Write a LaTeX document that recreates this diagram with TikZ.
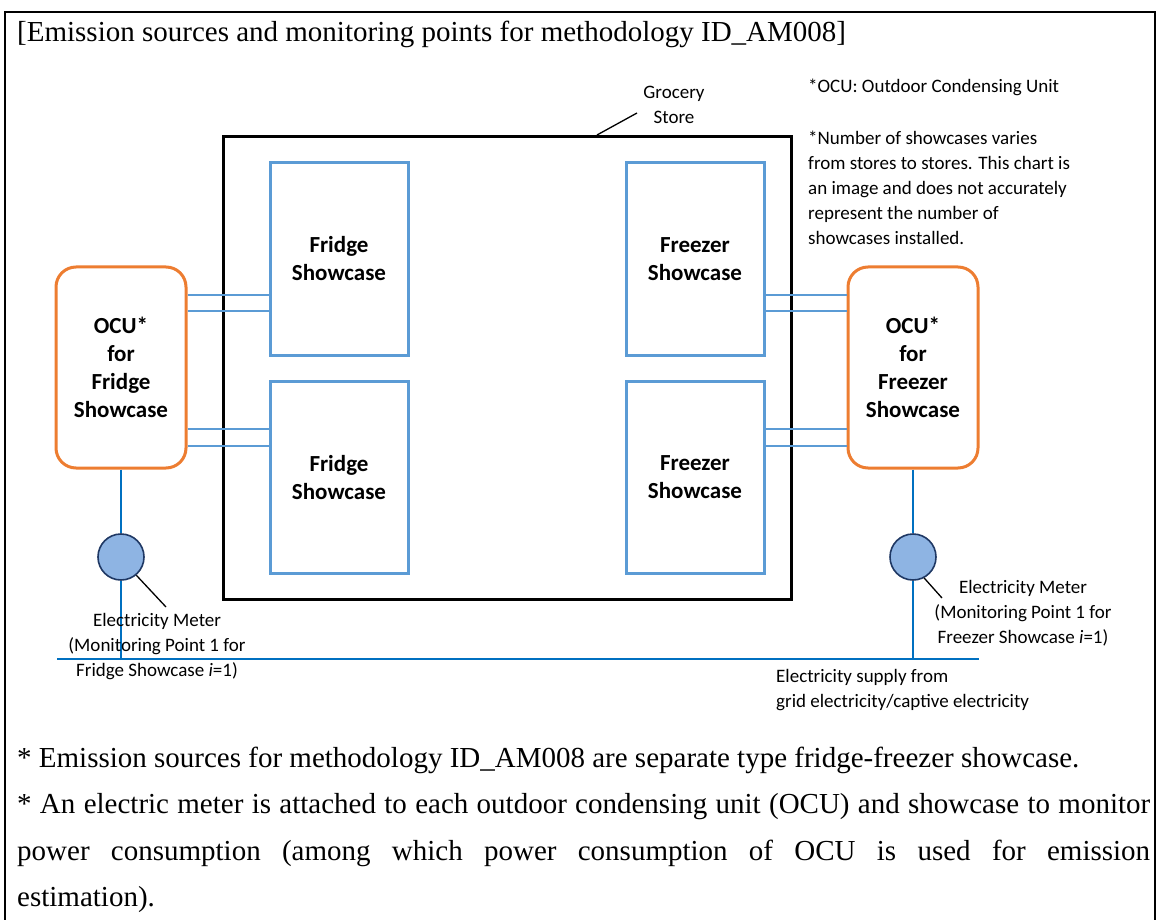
\documentclass[tikz,border=0pt]{standalone}
\usepackage{fontspec}
\setmainfont{Liberation Serif}
\newfontfamily\calib{Carlito}
\definecolor{scblue}{HTML}{5B9BD5}
\definecolor{ocuorange}{HTML}{ED7D31}
\definecolor{wireblue}{HTML}{0070C0}
\definecolor{meterfill}{HTML}{8EB4E3}
\definecolor{meterline}{HTML}{1F3864}
\begin{document}
\begin{tikzpicture}[x=1pt,y=-1pt,
  frame/.style={draw=black,line width=1.5pt},
  storebox/.style={draw=black,line width=3pt,minimum width=568pt,minimum height=462pt,inner sep=0pt},
  showcase/.style={draw=scblue,line width=3pt,minimum width=138pt,minimum height=192pt,inner sep=0pt,align=center,font=\calib\fontsize{23}{28}\selectfont\bfseries},
  ocu/.style={draw=ocuorange,line width=3pt,rounded corners=20pt,minimum width=130pt,minimum height=201pt,inner sep=0pt,align=center,font=\calib\fontsize{23}{28}\selectfont\bfseries},
  pipe/.style={draw=scblue,line width=2.2pt},
  wire/.style={draw=wireblue,line width=1.6pt},
  supply/.style={draw=wireblue,line width=2.8pt},
  meter/.style={circle,draw=meterline,line width=1.6pt,fill=meterfill,minimum size=46pt,inner sep=0pt},
  leader/.style={draw=black,line width=1.3pt},
  lbl/.style={font=\calib\fontsize{19}{25}\selectfont,inner sep=0pt},
  titletext/.style={font=\fontsize{29}{32}\selectfont,inner sep=0pt,anchor=base west},
  body/.style={font=\fontsize{29}{32}\selectfont,inner sep=0pt,anchor=base west}
]
\useasboundingbox (0,0) rectangle (1157,920);
\draw[frame] (5,930) -- (5,12) -- (1155,12) -- (1155,930);

\node[titletext] (title) at (17,42) {[Emission sources and monitoring points for methodology ID\_AM008]};

\node[storebox] (store) at (507,368) {};
\node[lbl,align=center] (storelbl) at (674,105) {Grocery\\Store};
\coordinate (storeTip) at (597,135);
\coordinate (storeLblEnd) at (637,113);
\draw[leader] (storeTip) -- (storeLblEnd);

\node[showcase] (fs1) at (339,259) {Fridge\\Showcase};
\node[showcase] (fs2) at (339,477.5) {Fridge\\Showcase};
\node[showcase] (zs1) at (695,259) {Freezer\\Showcase};
\node[showcase] (zs2) at (695,477.5) {Freezer\\Showcase};

\node[ocu] (ocuL) at (121,367.5) {OCU*\\for\\Fridge\\Showcase};
\node[ocu] (ocuR) at (913,367.5) {OCU*\\for\\Freezer\\Showcase};

\foreach \yy in {295,311}{
  \draw[pipe] (ocuL.east |- 0,\yy) -- (fs1.west |- 0,\yy);
  \draw[pipe] (zs1.east |- 0,\yy) -- (ocuR.west |- 0,\yy);
}
\foreach \yy in {429,446}{
  \draw[pipe] (ocuL.east |- 0,\yy) -- (fs2.west |- 0,\yy);
  \draw[pipe] (zs2.east |- 0,\yy) -- (ocuR.west |- 0,\yy);
}

\node[meter] (mL) at (121,557) {};
\node[meter] (mR) at (913,557) {};
\coordinate (sL) at (57,659);
\coordinate (sR) at (979,659);
\draw[wire] (ocuL.south) -- (mL.north);
\draw[wire] (ocuR.south) -- (mR.north);
\draw[wire] (mL.south) -- (mL.south |- sL);
\draw[wire] (mR.south) -- (mR.south |- sR);
\draw[supply] (sL) -- (sR);

\coordinate (mLend) at (166,607);
\coordinate (mRend) at (942,598);
\draw[leader] (mL.-50) -- (mLend);
\draw[leader] (mR.-62) -- (mRend);

\node[lbl,align=center] (mLlbl) at (157,647) {Electricity Meter\\(Monitoring Point 1 for\\Fridge Showcase \textit{i}=1)};
\node[lbl,align=center] (mRlbl) at (1023,613) {Electricity Meter\\(Monitoring Point 1 for\\Freezer Showcase \textit{i}=1)};
\node[lbl,align=left,anchor=west] (supplylbl) at (776,690.5) {Electricity supply from\\grid electricity/captive electricity};

\node[lbl,anchor=west] (note1) at (808,87) {*OCU: Outdoor Condensing Unit};
\node[lbl,align=left,anchor=west] (note2) at (808,187.5) {*Number of showcases varies\\from stores to stores. This chart is\\an image and does not accurately\\represent the number of\\showcases installed.};

\node[body] (b1) at (17,767) {* Emission sources for methodology ID\_AM008 are separate type fridge-freezer showcase.};
\node[body] (b2) at (17,813) {\makebox[1133pt][s]{* An electric meter is attached to each outdoor condensing unit (OCU) and showcase to monitor}};
\node[body] (b3) at (17,860) {\makebox[1133pt][s]{power consumption (among which power consumption of OCU is used for emission}};
\node[body] (b4) at (17,906) {estimation).};
\end{tikzpicture}
\end{document}
